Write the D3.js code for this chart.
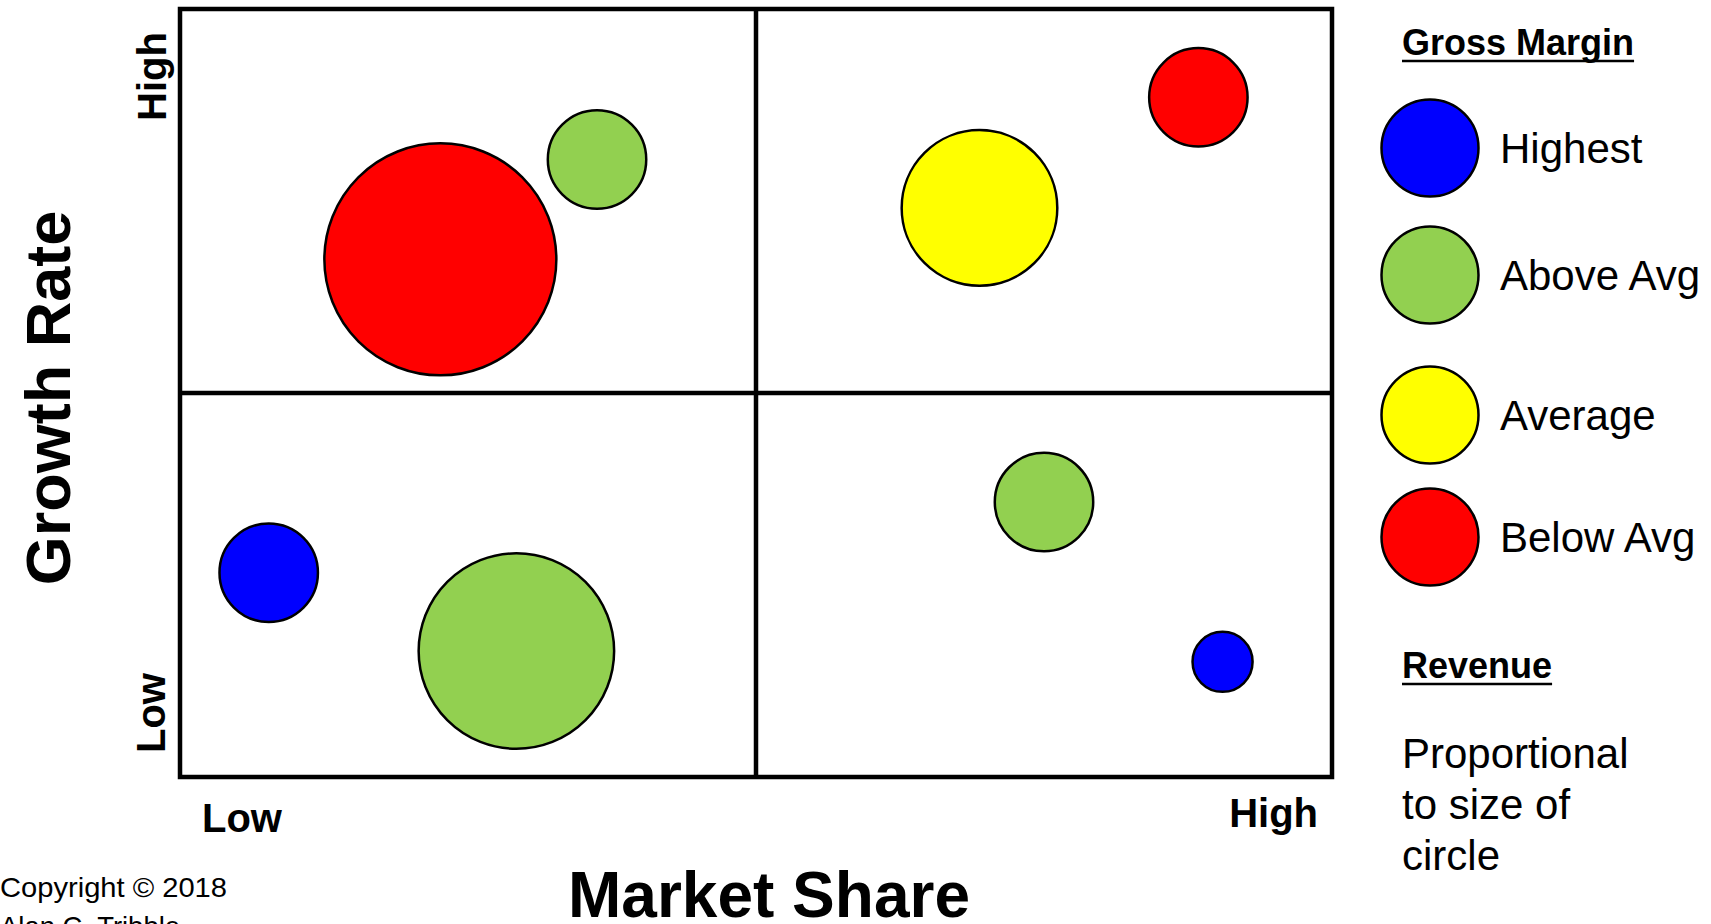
<!DOCTYPE html>
<html>
<head>
<meta charset="utf-8">
<script src="https://cdn.jsdelivr.net/npm/d3@7"></script>
<style>
  body { margin: 0; background: #fff; }
  text { font-family: "Liberation Sans", Arial, sans-serif; fill: #000; }
</style>
</head>
<body>
<script>
// bubbles: market share (%), growth rate (%), revenue (relative), gross margin class
const products = ['A', 'B', 'C', 'D', 'E', 'F', 'G', 'H'];
const marketShare = [22.6, 36.2, 69.4, 88.4, 7.7, 29.2, 75.0, 90.5];
const growthRate = [67.4, 80.4, 74.1, 88.5, 26.6, 16.4, 35.8, 15.0];
const revenue = [100, 18, 45, 18, 18, 71, 18, 6.7];
const margin = ['Below Avg', 'Above Avg', 'Average', 'Below Avg', 'Highest', 'Above Avg', 'Above Avg', 'Highest'];

const marginClasses = ['Highest', 'Above Avg', 'Average', 'Below Avg'];
const marginColors = ['#0000ff', '#92d050', '#ffff00', '#ff0000'];
const axisTicks = ['Low', 'High'];
const sizeNote = ['Proportional', 'to size of', 'circle'];

const width = 1711, height = 924;
const plot = { left: 180, right: 1332, top: 9, bottom: 777 };

const svg = d3.select('body').append('svg')
    .attr('width', width).attr('height', height)
    .attr('xmlns', 'http://www.w3.org/2000/svg');

const x = d3.scaleLinear().domain([0, 100]).range([plot.left, plot.right]);
const y = d3.scaleLinear().domain([0, 100]).range([plot.bottom, plot.top]);
const r = d3.scaleSqrt().domain([0, 100]).range([0, 116]);
const color = d3.scaleOrdinal().domain(marginClasses).range(marginColors);

// quadrant frame
svg.append('rect')
    .attr('x', x(0)).attr('y', y(100))
    .attr('width', x(100) - x(0)).attr('height', y(0) - y(100))
    .attr('fill', 'none').attr('stroke', '#000').attr('stroke-width', 4.5);

svg.append('line')
    .attr('x1', x(50)).attr('x2', x(50)).attr('y1', y(0)).attr('y2', y(100))
    .attr('stroke', '#000').attr('stroke-width', 4.5);
svg.append('line')
    .attr('x1', x(0)).attr('x2', x(100)).attr('y1', y(50)).attr('y2', y(50))
    .attr('stroke', '#000').attr('stroke-width', 4.5);

const data = products.map((p, i) => ({
    name: p, share: marketShare[i], growth: growthRate[i], revenue: revenue[i], margin: margin[i]
}));

svg.append('g').selectAll('circle')
    .data(data)
    .join('circle')
    .attr('cx', d => x(d.share))
    .attr('cy', d => y(d.growth))
    .attr('r', d => r(d.revenue))
    .attr('fill', d => color(d.margin))
    .attr('stroke', '#000').attr('stroke-width', 2.5);

// axis end labels
svg.append('text').attr('x', 202).attr('y', 832)
    .attr('font-size', 40).attr('font-weight', 'bold').text(axisTicks[0]);
svg.append('text').attr('x', 1318).attr('y', 827).attr('text-anchor', 'end')
    .attr('font-size', 40).attr('font-weight', 'bold').text(axisTicks[1]);

svg.append('text').attr('transform', 'translate(165,753) rotate(-90)')
    .attr('font-size', 40).attr('font-weight', 'bold').text(axisTicks[0]);
svg.append('text').attr('transform', 'translate(166,32) rotate(-90)')
    .attr('text-anchor', 'end')
    .attr('font-size', 40).attr('font-weight', 'bold').text(axisTicks[1]);

// axis titles
svg.append('text').attr('x', 769).attr('y', 917).attr('text-anchor', 'middle')
    .attr('font-size', 64).attr('font-weight', 'bold').text('Market Share');
svg.append('text').attr('transform', 'translate(70,398) rotate(-90)')
    .attr('text-anchor', 'middle')
    .attr('font-size', 63).attr('font-weight', 'bold').text('Growth Rate');

// legend
function underlinedTitle(txt, tx, ty) {
    const t = svg.append('text').attr('x', tx).attr('y', ty)
        .attr('font-size', 36).attr('font-weight', 'bold').text(txt);
    const w = t.node().getComputedTextLength();
    svg.append('line').attr('x1', tx).attr('x2', tx + w)
        .attr('y1', ty + 6).attr('y2', ty + 6)
        .attr('stroke', '#000').attr('stroke-width', 2.5);
}

underlinedTitle('Gross Margin', 1402, 55);

const legendY = [148, 275, 415, 537];
const legend = svg.append('g').selectAll('g')
    .data(marginClasses)
    .join('g')
    .attr('transform', (d, i) => `translate(1430,${legendY[i]})`);

legend.append('circle')
    .attr('r', 48.5)
    .attr('fill', d => color(d))
    .attr('stroke', '#000').attr('stroke-width', 2.5);

legend.append('text')
    .attr('x', 70).attr('y', 15)
    .attr('font-size', 42)
    .text(d => d);

underlinedTitle('Revenue', 1402, 678);

svg.append('g').selectAll('text')
    .data(sizeNote)
    .join('text')
    .attr('x', 1402).attr('y', (d, i) => 768 + i * 51)
    .attr('font-size', 42)
    .text(d => d);

// footer
svg.append('text').attr('x', 0).attr('y', 897)
    .attr('font-size', 28).attr('font-family', '"Open Sans", sans-serif')
    .attr('textLength', 227).attr('lengthAdjust', 'spacingAndGlyphs')
    .text('Copyright © 2018');
svg.append('text').attr('x', 0).attr('y', 936)
    .attr('font-size', 28).attr('font-family', '"Open Sans", sans-serif')
    .attr('textLength', 180).attr('lengthAdjust', 'spacingAndGlyphs')
    .text('Alan C. Tribble');
</script>
</body>
</html>
